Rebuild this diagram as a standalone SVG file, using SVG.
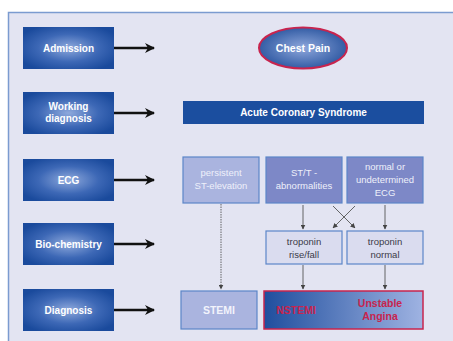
<svg xmlns="http://www.w3.org/2000/svg" width="453" height="341" viewBox="0 0 453 341">
<defs>
<radialGradient id="rg" cx="50%" cy="50%" r="60%">
<stop offset="0" stop-color="#8ea9dc"/>
<stop offset="0.55" stop-color="#3d68b6"/>
<stop offset="1" stop-color="#1a4a9c"/>
</radialGradient>
<radialGradient id="eg" cx="50%" cy="50%" r="55%">
<stop offset="0" stop-color="#8ea7dc"/>
<stop offset="1" stop-color="#2a559f"/>
</radialGradient>
<linearGradient id="lg" x1="0" y1="0" x2="1" y2="0">
<stop offset="0" stop-color="#1f4e9e"/>
<stop offset="1" stop-color="#9fb3e2"/>
</linearGradient>
<marker id="ab" viewBox="0 0 10 10" refX="9" refY="5" markerWidth="5" markerHeight="5" orient="auto" markerUnits="userSpaceOnUse">
<path d="M0,0 L10,5 L0,10 z" fill="#444"/>
</marker>
<marker id="big" viewBox="0 0 10 10" refX="9" refY="5" markerWidth="12" markerHeight="10" orient="auto" markerUnits="userSpaceOnUse">
<path d="M0,0 L10,5 L0,10 L3,5 z" fill="#111"/>
</marker>
</defs>
<style>
text{font-family:"Liberation Sans",Arial,sans-serif;font-weight:bold;text-anchor:middle}
.side rect{fill:url(#rg)}
.side text{fill:#fff;font-size:10px}
.lt{fill:#aab4df;stroke:#5c86c8;stroke-width:1.2}
.md{fill:#7d88c7;stroke:#5c86c8;stroke-width:1.2}
.tr{fill:#dadcef;stroke:#5c86c8;stroke-width:1.2}
.wt{fill:#eef0fa;font-size:9.5px;font-weight:normal}
.dk{fill:#3a3a48;font-size:9.5px;font-weight:normal}
.red{fill:#c8244e;font-size:10.5px}
.arr{stroke:#111;stroke-width:2.5;fill:none;marker-end:url(#big)}
.thin{stroke:#555;stroke-width:0.9;fill:none;marker-end:url(#ab)}
</style>
<rect x="8.5" y="12.5" width="450" height="340" fill="#e3e4f2" stroke="#7b9bd0" stroke-width="1.5"/>

<g id="admission" class="side"><rect x="23" y="27" width="91" height="42"/><text x="68.5" y="52">Admission</text></g>
<g id="working-diagnosis" class="side"><rect x="23" y="92" width="91" height="42"/><text x="68.5" y="110">Working</text><text x="68.5" y="122">diagnosis</text></g>
<g id="ecg" class="side"><rect x="23" y="159" width="91" height="42"/><text x="68.5" y="184">ECG</text></g>
<g id="biochemistry" class="side"><rect x="23" y="223" width="91" height="42"/><text x="68.5" y="248">Bio-chemistry</text></g>
<g id="diagnosis" class="side"><rect x="23" y="289" width="91" height="42"/><text x="68.5" y="314">Diagnosis</text></g>

<g id="chest-pain"><ellipse cx="303" cy="48" rx="44" ry="20.5" fill="url(#eg)" stroke="#c8244e" stroke-width="2"/><text x="303" y="52" fill="#fff" font-size="10.5">Chest Pain</text></g>
<g id="acs"><rect x="183" y="101" width="241" height="23" fill="#1b4e9f"/><text x="303.5" y="116" fill="#fff" font-size="10">Acute Coronary Syndrome</text></g>

<g id="persistent"><rect class="lt" x="183" y="157" width="76" height="46"/><text class="wt" x="221" y="176">persistent</text><text class="wt" x="221" y="189">ST-elevation</text></g>
<g id="stt"><rect class="md" x="266" y="157" width="76" height="46"/><text class="wt" x="304" y="176">ST/T -</text><text class="wt" x="304" y="189">abnormalities</text></g>
<g id="normal-ecg"><rect class="md" x="347" y="157" width="76" height="46"/><text class="wt" x="385" y="170">normal or</text><text class="wt" x="385" y="183">undetermined</text><text class="wt" x="385" y="196">ECG</text></g>

<g id="trop-rise"><rect class="tr" x="266" y="231" width="76" height="33"/><text class="dk" x="304" y="245">troponin</text><text class="dk" x="304" y="258">rise/fall</text></g>
<g id="trop-normal"><rect class="tr" x="347" y="231" width="76" height="33"/><text class="dk" x="385" y="245">troponin</text><text class="dk" x="385" y="258">normal</text></g>

<g id="stemi"><rect class="lt" x="181" y="291" width="76" height="38"/><text x="219" y="314" fill="#f2f3fb" font-size="10.5">STEMI</text></g>
<g id="nstemi-ua"><rect x="264" y="291" width="159" height="38" fill="url(#lg)" stroke="#c8244e" stroke-width="1.5"/><text class="red" x="296" y="314">NSTEMI</text><text class="red" x="380" y="307">Unstable</text><text class="red" x="380" y="320">Angina</text></g>

<g id="connectors">
<line class="arr" x1="114" y1="48" x2="154" y2="48"/>
<line class="arr" x1="114" y1="113" x2="154" y2="113"/>
<line class="arr" x1="114" y1="180" x2="154" y2="180"/>
<line class="arr" x1="114" y1="244" x2="154" y2="244"/>
<line class="arr" x1="114" y1="310" x2="154" y2="310"/>
<line class="thin" x1="221" y1="204" x2="221" y2="289" stroke-dasharray="1.5,1"/>
<line class="thin" x1="303" y1="205" x2="303" y2="229"/>
<line class="thin" x1="385" y1="205" x2="385" y2="229"/>
<line class="thin" x1="333" y1="206" x2="355" y2="228"/>
<line class="thin" x1="355" y1="206" x2="333" y2="228"/>
<line class="thin" x1="303" y1="265" x2="303" y2="289"/>
<line class="thin" x1="385" y1="265" x2="385" y2="289"/>
</g>
</svg>
